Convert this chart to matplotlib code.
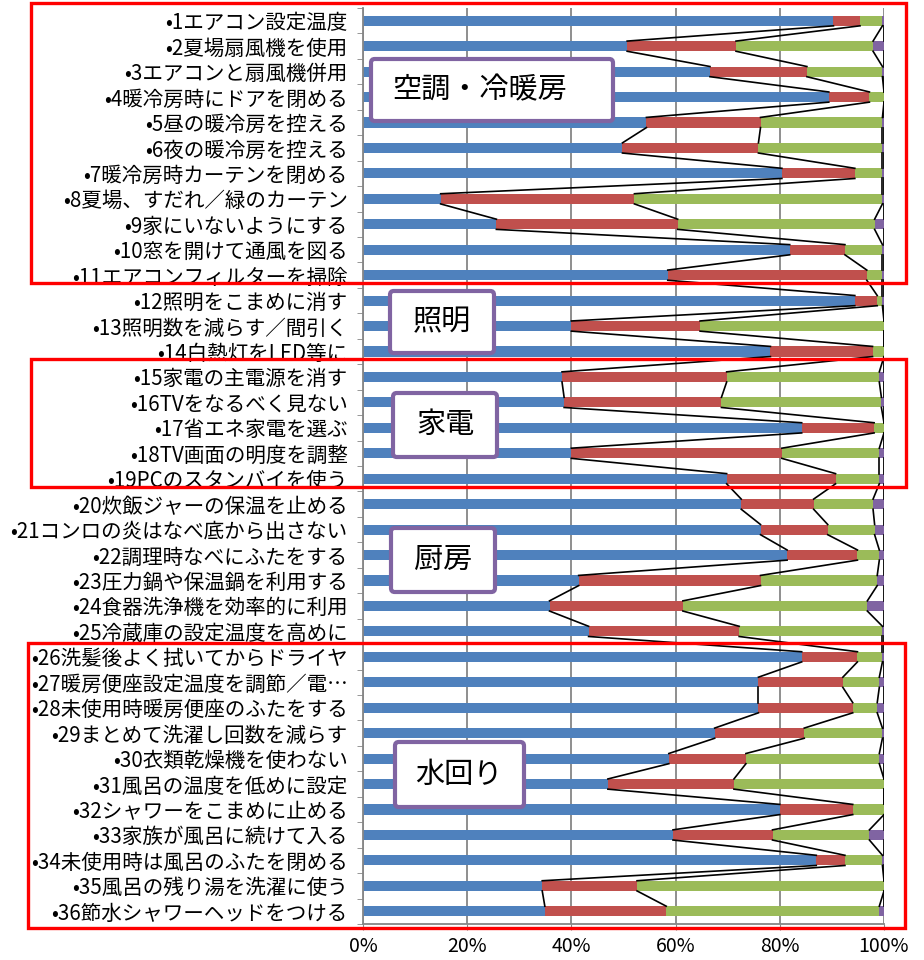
import numpy as np
import matplotlib.pyplot as plt
from matplotlib.patches import Rectangle, FancyBboxPatch

plt.rcParams['font.family'] = ['Noto Sans CJK JP', 'DejaVu Sans']

labels = [
    "•1エアコン設定温度", "•2夏場扇風機を使用", "•3エアコンと扇風機併用",
    "•4暖冷房時にドアを閉める", "•5昼の暖冷房を控える", "•6夜の暖冷房を控える",
    "•7暖冷房時カーテンを閉める", "•8夏場、すだれ／緑のカーテン", "•9家にいないようにする",
    "•10窓を開けて通風を図る", "•11エアコンフィルターを掃除", "•12照明をこまめに消す",
    "•13照明数を減らす／間引く", "•14白熱灯をLED等に", "•15家電の主電源を消す",
    "•16TVをなるべく見ない", "•17省エネ家電を選ぶ", "•18TV画面の明度を調整",
    "•19PCのスタンバイを使う", "•20炊飯ジャーの保温を止める", "•21コンロの炎はなべ底から出さない",
    "•22調理時なべにふたをする", "•23圧力鍋や保温鍋を利用する", "•24食器洗浄機を効率的に利用",
    "•25冷蔵庫の設定温度を高めに", "•26洗髪後よく拭いてからドライヤ", "•27暖房便座設定温度を調節／電…",
    "•28未使用時暖房便座のふたをする", "•29まとめて洗濯し回数を減らす", "•30衣類乾燥機を使わない",
    "•31風呂の温度を低めに設定", "•32シャワーをこまめに止める", "•33家族が風呂に続けて入る",
    "•34未使用時は風呂のふたを閉める", "•35風呂の残り湯を洗濯に使う", "•36節水シャワーヘッドをつける",
]

# percentages per segment (blue, red, green, purple)
blue = [90.3, 50.7, 66.6, 89.4, 54.4, 49.8, 80.4, 14.9, 25.6, 81.9, 58.5, 94.4,
        40.0, 78.2, 38.2, 38.6, 84.2, 40.0, 69.8, 72.6, 76.3, 81.4, 41.4, 35.8,
        43.3, 84.2, 75.9, 75.9, 67.5, 58.7, 47.0, 80.0, 59.5, 87.0, 34.4, 34.9]
red = [5.1, 20.9, 18.6, 7.8, 21.9, 26.1, 14.0, 37.2, 34.8, 10.6, 38.2, 4.3,
       24.7, 19.6, 31.6, 30.2, 13.9, 40.4, 20.9, 13.9, 12.9, 13.5, 34.9, 25.6,
       28.9, 10.7, 16.2, 18.1, 17.2, 14.8, 24.2, 14.0, 19.1, 5.5, 18.2, 23.3]
green = [4.3, 26.3, 14.5, 2.8, 23.4, 23.8, 5.3, 47.6, 37.8, 7.2, 3.0, 1.0,
         35.3, 2.2, 29.3, 30.7, 1.9, 18.7, 8.4, 11.4, 9.0, 4.2, 22.4, 35.4,
         27.5, 4.8, 7.0, 4.7, 15.0, 25.6, 28.8, 6.0, 18.6, 7.2, 47.4, 40.9]
purple = [0.3, 2.1, 0.3, 0.0, 0.3, 0.3, 0.3, 0.3, 1.8, 0.3, 0.3, 0.3,
          0.0, 0.0, 0.9, 0.5, 0.0, 0.9, 0.9, 2.1, 1.8, 0.9, 1.3, 3.2,
          0.3, 0.3, 0.9, 1.3, 0.3, 0.9, 0.0, 0.0, 2.8, 0.3, 0.0, 0.9]

colors = ['#4F81BD', '#C0504D', '#9BBB59', '#8064A2']

fig = plt.figure(figsize=(9.24, 9.6), dpi=100)
ax = fig.add_axes([363 / 924, 1 - 924 / 960, (884 - 363) / 924, (924 - 8) / 960])

y = np.arange(len(labels))
h = 0.4
data = np.array([blue, red, green, purple])
left = np.zeros(len(labels))
ends = []
for vals, c in zip(data, colors):
    ax.barh(y, vals, left=left, height=h, color=c, zorder=2)
    left = left + vals
    ends.append(left.copy())

# series lines between neighbouring bars
for e in ends:
    for i in range(len(labels) - 1):
        ax.plot([e[i], e[i + 1]], [i + h / 2, i + 1 - h / 2], color='black', lw=1.2, zorder=3)

ax.set_xlim(0, 100)
ax.set_ylim(len(labels) - 0.5, -0.5)
ax.set_xticks([0, 20, 40, 60, 80, 100])
ax.set_xticklabels(['0%', '20%', '40%', '60%', '80%', '100%'], fontsize=14)
ax.set_yticks(y)
ax.set_yticklabels(labels, fontsize=14.8)
ax.set_yticks(np.arange(-0.5, len(labels), 1), minor=True)
ax.tick_params(axis='y', which='major', length=0, pad=11)
ax.tick_params(axis='y', which='minor', length=4, color='#868686')
ax.tick_params(axis='x', length=4, color='#868686', pad=5)
ax.grid(axis='x', color='#868686', lw=1.3, zorder=0)
for s in ['top', 'right']:
    ax.spines[s].set_visible(False)
for s in ['left', 'bottom']:
    ax.spines[s].set_color('#868686')
    ax.spines[s].set_linewidth(1.3)


def fig_rect(x0, y0, x1, y1):
    return x0 / 924, 1 - y1 / 960, (x1 - x0) / 924, (y1 - y0) / 960


# red group frames
for x0, y0, x1, y1 in [(31, 3, 906, 283), (31, 359, 906, 487), (28, 643, 905, 928)]:
    fx, fy, fw, fh = fig_rect(x0, y0, x1, y1)
    fig.add_artist(Rectangle((fx, fy), fw, fh, transform=fig.transFigure,
                             fill=False, edgecolor='#FF0000', lw=2.4, zorder=5))

# category boxes
boxes = [("空調・冷暖房", 371, 59, 613, 121, 480),
         ("照明", 390, 291, 494, 353, 442),
         ("家電", 393, 393, 497, 457, 446),
         ("厨房", 391, 528, 495, 592, 443),
         ("水回り", 395, 742, 524, 807, 459)]
for txt, x0, y0, x1, y1, tx in boxes:
    fx, fy, fw, fh = fig_rect(x0, y0, x1, y1)
    fig.add_artist(FancyBboxPatch((fx, fy), fw, fh, boxstyle="round,pad=0,rounding_size=0.004",
                                  transform=fig.transFigure, facecolor='white',
                                  edgecolor='#8064A2', lw=3, zorder=6))
    fig.text(tx / 924, 1 - (y0 + y1) / 2 / 960, txt, fontsize=21,
             ha='center', va='center', zorder=7)

plt.savefig('out.png', dpi=100)
